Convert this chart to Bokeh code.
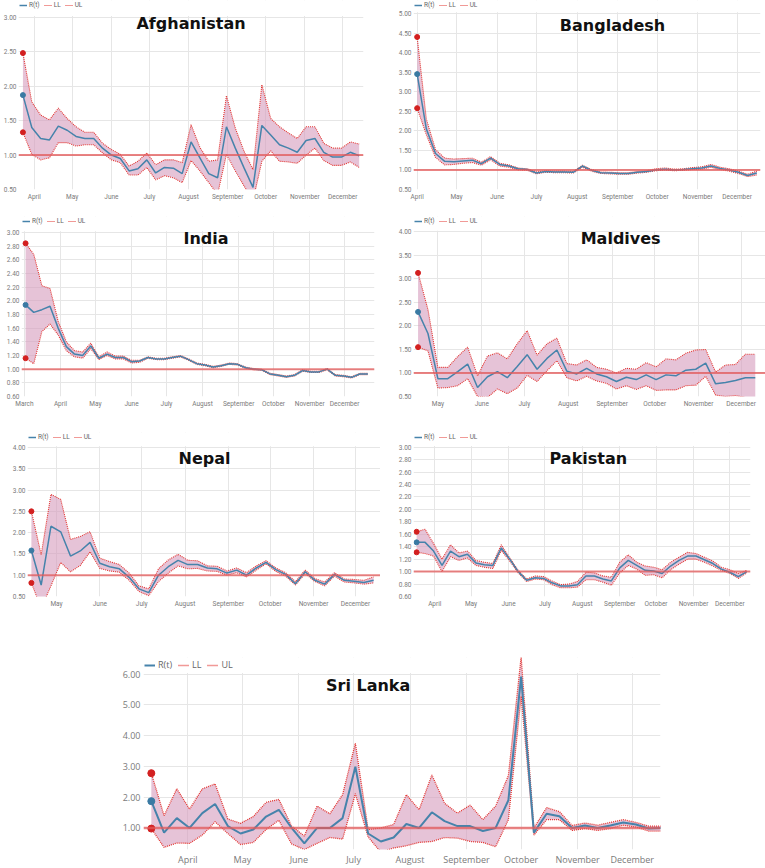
import pandas as pd
from bokeh.plotting import figure
from bokeh.models import (ColumnDataSource, Legend, LegendItem, Span, Label, FixedTicker, BoxAnnotation,
                          DatetimeTickFormatter, PrintfTickFormatter, Range1d, Spacer)
from bokeh.layouts import column, row
from bokeh.embed import file_html
from bokeh.resources import INLINE

# ---------------- data (weekly R(t) estimates with lower / upper limits) ----------------
MONTHS = ["2020-03-01", "2020-04-01", "2020-05-01", "2020-06-01", "2020-07-01",
          "2020-08-01", "2020-09-01", "2020-10-01", "2020-11-01", "2020-12-01"]

AFG_START = "2020-03-23"
AFG_R = [1.87, 1.40, 1.24, 1.22, 1.42, 1.36, 1.27, 1.24, 1.24, 1.10, 1.00, 0.95, 0.77, 0.80, 0.93, 0.74, 0.82, 0.81, 0.73, 1.19,
         0.96, 0.73, 0.67, 1.41, 1.10, 0.81, 0.53, 1.43, 1.29, 1.15, 1.10, 1.04, 1.21, 1.24, 1.04, 0.97, 0.97, 1.04, 0.99]
AFG_UL = [2.48, 1.77, 1.58, 1.51, 1.68, 1.53, 1.41, 1.33, 1.33, 1.17, 1.08, 1.01, 0.84, 0.91, 1.03, 0.86, 0.93, 0.93, 0.89, 1.44,
          1.11, 0.91, 0.93, 1.86, 1.39, 1.05, 0.79, 2.02, 1.53, 1.41, 1.32, 1.24, 1.41, 1.41, 1.17, 1.10, 1.10, 1.19, 1.16]
AFG_LL = [1.33, 1.01, 0.93, 0.96, 1.18, 1.18, 1.13, 1.15, 1.15, 1.03, 0.93, 0.89, 0.71, 0.71, 0.82, 0.64, 0.70, 0.67, 0.60, 0.92,
          0.77, 0.60, 0.43, 1.01, 0.77, 0.55, 0.34, 0.91, 1.06, 0.91, 0.90, 0.88, 1.00, 1.10, 0.92, 0.85, 0.85, 0.90, 0.82]

BGD_START = "2020-04-01"
BGD_R = [3.45, 2.05, 1.42, 1.22, 1.21, 1.23, 1.25, 1.16, 1.30, 1.14, 1.10, 1.03, 1.01, 0.92, 0.96, 0.95, 0.95, 0.94, 1.10, 0.99,
         0.93, 0.92, 0.91, 0.91, 0.94, 0.96, 1.00, 1.02, 1.00, 1.01, 1.03, 1.05, 1.10, 1.04, 1.00, 0.94, 0.86, 0.92]
BGD_UL = [4.40, 2.30, 1.52, 1.30, 1.28, 1.29, 1.30, 1.20, 1.34, 1.17, 1.13, 1.05, 1.03, 0.95, 0.98, 0.97, 0.97, 0.96, 1.12, 1.01,
          0.95, 0.94, 0.93, 0.93, 0.96, 0.98, 1.03, 1.05, 1.02, 1.03, 1.06, 1.08, 1.14, 1.07, 1.03, 0.97, 0.89, 0.97]
BGD_LL = [2.58, 1.90, 1.32, 1.13, 1.14, 1.17, 1.19, 1.12, 1.26, 1.10, 1.07, 1.00, 0.99, 0.90, 0.94, 0.93, 0.93, 0.92, 1.07, 0.97,
          0.91, 0.90, 0.89, 0.89, 0.92, 0.94, 0.98, 1.00, 0.98, 0.99, 1.01, 1.02, 1.07, 1.01, 0.97, 0.91, 0.83, 0.87]

IND_START = "2020-03-02"
IND_R = [1.94, 1.83, 1.87, 1.92, 1.60, 1.33, 1.22, 1.20, 1.34, 1.16, 1.22, 1.17, 1.17, 1.11, 1.12, 1.17, 1.15, 1.15, 1.17, 1.19,
         1.14, 1.08, 1.06, 1.03, 1.05, 1.08, 1.07, 1.02, 1.00, 0.99, 0.93, 0.91, 0.89, 0.91, 0.98, 0.96, 0.96, 1.00, 0.91, 0.90,
         0.88, 0.93, 0.93]
IND_UL = [2.84, 2.68, 2.22, 2.18, 1.70, 1.40, 1.27, 1.25, 1.38, 1.18, 1.25, 1.19, 1.19, 1.13, 1.13, 1.18, 1.16, 1.16, 1.18, 1.20,
          1.15, 1.09, 1.07, 1.04, 1.06, 1.09, 1.08, 1.03, 1.01, 1.00, 0.94, 0.92, 0.90, 0.92, 0.99, 0.97, 0.97, 1.01, 0.92, 0.91,
          0.89, 0.94, 0.94]
IND_LL = [1.16, 1.08, 1.55, 1.66, 1.50, 1.27, 1.18, 1.16, 1.30, 1.14, 1.20, 1.15, 1.15, 1.09, 1.10, 1.16, 1.14, 1.14, 1.16, 1.18,
          1.13, 1.07, 1.05, 1.02, 1.04, 1.07, 1.06, 1.01, 0.99, 0.98, 0.92, 0.90, 0.88, 0.90, 0.97, 0.95, 0.95, 0.99, 0.90, 0.89,
          0.87, 0.92, 0.92]

MDV_START = "2020-04-17"
MDV_R = [2.30, 1.84, 0.88, 0.88, 1.03, 1.19, 0.69, 0.92, 1.03, 0.90, 1.14, 1.39, 1.08, 1.31, 1.49, 1.04, 0.98, 1.10, 0.98, 0.92,
         0.82, 0.91, 0.86, 0.96, 0.86, 0.96, 0.94, 1.06, 1.08, 1.21, 0.77, 0.80, 0.84, 0.90, 0.90]
MDV_UL = [3.13, 2.35, 1.12, 1.12, 1.35, 1.55, 0.94, 1.36, 1.43, 1.30, 1.62, 1.90, 1.38, 1.62, 1.74, 1.20, 1.17, 1.28, 1.12, 1.08,
          1.00, 1.10, 1.08, 1.22, 1.13, 1.30, 1.28, 1.42, 1.49, 1.50, 1.02, 1.17, 1.18, 1.40, 1.40]
MDV_LL = [1.55, 1.47, 0.68, 0.69, 0.73, 0.88, 0.50, 0.48, 0.66, 0.56, 0.68, 0.95, 0.82, 1.05, 1.26, 0.90, 0.83, 0.93, 0.83, 0.78,
          0.66, 0.73, 0.65, 0.73, 0.63, 0.64, 0.64, 0.73, 0.74, 0.93, 0.53, 0.50, 0.52, 0.48, 0.46]

NPL_START = "2020-04-13"
NPL_R = [1.58, 0.77, 2.15, 2.02, 1.45, 1.57, 1.77, 1.28, 1.20, 1.15, 0.95, 0.68, 0.59, 1.00, 1.20, 1.35, 1.25, 1.25, 1.17, 1.15,
         1.05, 1.12, 1.00, 1.17, 1.30, 1.13, 1.02, 0.80, 1.08, 0.88, 0.79, 1.02, 0.88, 0.86, 0.83, 0.88]
NPL_UL = [2.50, 1.48, 2.90, 2.78, 1.84, 1.91, 2.02, 1.40, 1.32, 1.25, 1.05, 0.75, 0.68, 1.15, 1.36, 1.49, 1.35, 1.34, 1.22, 1.21,
          1.10, 1.17, 1.06, 1.22, 1.34, 1.17, 1.06, 0.85, 1.12, 0.92, 0.84, 1.06, 0.91, 0.90, 0.88, 0.96]
NPL_LL = [0.82, 0.22, 0.75, 1.30, 1.08, 1.23, 1.55, 1.16, 1.10, 1.07, 0.88, 0.62, 0.52, 0.85, 1.05, 1.22, 1.15, 1.16, 1.10, 1.09,
          1.00, 1.06, 0.96, 1.12, 1.27, 1.09, 0.98, 0.77, 1.04, 0.85, 0.75, 0.98, 0.84, 0.82, 0.79, 0.82]

PAK_START = "2020-03-17"
PAK_R = [1.47, 1.47, 1.33, 1.10, 1.33, 1.24, 1.28, 1.14, 1.11, 1.10, 1.38, 1.20, 1.00, 0.86, 0.90, 0.89, 0.82, 0.77, 0.77, 0.79,
         0.93, 0.93, 0.88, 0.85, 1.06, 1.18, 1.10, 1.02, 1.01, 0.97, 1.09, 1.18, 1.25, 1.25, 1.19, 1.13, 1.04, 0.99, 0.92, 1.00]
PAK_UL = [1.64, 1.68, 1.45, 1.20, 1.43, 1.30, 1.33, 1.18, 1.15, 1.13, 1.43, 1.22, 1.02, 0.88, 0.93, 0.92, 0.85, 0.79, 0.80, 0.84,
          0.99, 0.98, 0.93, 0.91, 1.15, 1.27, 1.15, 1.09, 1.07, 1.03, 1.15, 1.23, 1.31, 1.29, 1.23, 1.17, 1.07, 1.03, 0.97, 1.02]
PAK_LL = [1.31, 1.29, 1.25, 1.00, 1.24, 1.18, 1.22, 1.10, 1.07, 1.05, 1.34, 1.17, 0.98, 0.84, 0.88, 0.87, 0.79, 0.74, 0.74, 0.75,
          0.87, 0.87, 0.83, 0.78, 0.98, 1.10, 1.04, 0.94, 0.95, 0.90, 1.03, 1.12, 1.20, 1.20, 1.15, 1.09, 1.02, 0.97, 0.89, 0.98]

LKA_START = "2020-03-12"
LKA_R = [1.87, 0.85, 1.32, 1.00, 1.48, 1.78, 1.06, 0.82, 0.95, 1.37, 1.59, 1.00, 0.50, 1.00, 1.00, 1.32, 2.99, 0.82, 0.56, 0.69,
         1.13, 1.00, 1.51, 1.22, 1.06, 1.06, 0.90, 1.00, 1.90, 5.92, 0.85, 1.46, 1.38, 1.00, 1.08, 1.00, 1.08, 1.18, 1.11, 0.98,
         1.00]
LKA_UL = [2.78, 1.40, 2.27, 1.61, 2.27, 2.43, 1.29, 1.15, 1.37, 1.83, 1.93, 1.06, 0.74, 1.71, 1.46, 2.08, 3.75, 0.95, 1.00, 1.11,
          2.08, 1.59, 2.72, 1.80, 1.48, 1.74, 1.27, 1.71, 2.70, 6.55, 1.00, 1.66, 1.53, 1.08, 1.16, 1.09, 1.18, 1.27, 1.18, 1.06,
          1.06]
LKA_LL = [0.98, 0.37, 0.51, 0.50, 0.77, 1.20, 0.82, 0.46, 0.53, 0.95, 1.25, 0.48, 0.30, 0.50, 0.69, 0.64, 2.11, 0.71, 0.21, 0.35,
          0.42, 0.53, 0.56, 0.69, 0.67, 0.56, 0.53, 0.39, 1.27, 5.28, 0.77, 1.27, 1.27, 0.92, 0.98, 0.92, 0.98, 1.09, 1.03, 0.90,
          0.90]

# ---------------- styles ----------------
BLUE = "#4683ab"
RED = "#e3342f"
FILL = "#d69bbd"
GRID = "#e6e6e6"
TICK = "#7a7a7a"


def ms(s):
    return pd.Timestamp(s).value / 1e6


MONTH_MS = [ms(m) for m in MONTHS]


def panel(name, start, R, UL, LL, xr, yr, yticks, width, height, borders, band, title_xy, big=False):
    L, Rb, T, B = borders
    y0, y1 = yr
    plot_h = height - T - band - B            # height of the valued part of the frame
    per_px = (y1 - y0) / plot_h
    y_top = y1 + band * per_px                # extra strip on top that holds the legend

    dates = pd.date_range(start, periods=len(R), freq="7D")
    src = ColumnDataSource(dict(x=dates, r=R, ul=UL, ll=LL))
    p = figure(width=width, height=height, x_axis_type="datetime", output_backend="svg",
               toolbar_location=None, x_range=Range1d(ms(xr[0]), ms(xr[1])),
               y_range=Range1d(y0, y_top),
               min_border_left=L, min_border_right=Rb, min_border_top=T, min_border_bottom=B)
    p.outline_line_color = None

    # hide the vertical grid lines inside the legend strip
    p.add_layout(BoxAnnotation(bottom=y1 + 1.2 * per_px, fill_color="white", fill_alpha=1.0,
                               line_alpha=0, level="underlay"))

    p.varea(x="x", y1="ll", y2="ul", source=src, fill_color=FILL, fill_alpha=0.6)
    p.add_layout(Span(location=1.0, dimension="width", line_color="#e35a5a",
                      line_alpha=0.75, line_width=2.5 if big else 2))
    lw = 1.3 if big else 1.1
    r_ll = p.line("x", "ll", source=src, line_color=RED, line_width=lw, line_dash="1 1")
    r_ul = p.line("x", "ul", source=src, line_color=RED, line_width=lw, line_dash="1 1")
    r_r = p.line("x", "r", source=src, line_color=BLUE, line_width=2 if big else 1.5)

    first = ColumnDataSource(dict(x=dates[:1], r=R[:1], ul=UL[:1], ll=LL[:1]))
    msz = 7 if big else 5
    p.scatter("x", "ul", source=first, size=msz, color="#d32020")
    p.scatter("x", "ll", source=first, size=msz, color="#d32020")
    p.scatter("x", "r", source=first, size=msz, color="#3a7aa3")

    fs = "9px" if big else "6.5px"
    legend = Legend(items=[LegendItem(label="R(t)", renderers=[r_r]),
                           LegendItem(label="LL", renderers=[r_ll]),
                           LegendItem(label="UL", renderers=[r_ul])],
                    orientation="horizontal", location="top_left",
                    glyph_width=11 if big else 8, glyph_height=10 if big else 8,
                    label_height=10 if big else 8, label_width=0,
                    label_standoff=3 if big else 2,
                    spacing=6 if big else 4, padding=0, margin=1,
                    label_text_font="Open Sans" if big else "Roboto",
                    label_text_font_size=fs, label_text_color="#666666",
                    background_fill_alpha=0, border_line_alpha=0)
    p.add_layout(legend, "center")

    p.add_layout(Label(x=ms(title_xy[0]), y=title_xy[1], text=name, text_align="center",
                       text_baseline="middle", text_font="DejaVu Sans", text_font_style="bold",
                       text_font_size="16px", text_color="#111111"))

    p.xaxis.ticker = FixedTicker(ticks=MONTH_MS)
    p.xaxis.formatter = DatetimeTickFormatter(
        microseconds="%B", milliseconds="%B", seconds="%B", minsec="%B", minutes="%B",
        hourmin="%B", hours="%B", days="%B", months="%B", years="%B")
    p.yaxis.ticker = FixedTicker(ticks=yticks)
    p.yaxis.formatter = PrintfTickFormatter(format="%.2f")
    for ax in (p.xaxis[0], p.yaxis[0]):
        ax.axis_line_color = None
        ax.major_tick_line_color = None
        ax.minor_tick_line_color = None
        ax.major_tick_in = 0
        ax.major_tick_out = 0
        ax.minor_tick_in = 0
        ax.minor_tick_out = 0
        ax.major_label_text_font = "Open Sans" if big else "Roboto"
        ax.major_label_text_font_size = fs
        ax.major_label_text_color = TICK
    p.xaxis.major_label_standoff = 3
    p.yaxis.major_label_standoff = 3 if big else 2
    p.grid.grid_line_color = GRID
    p.grid.grid_line_width = 1
    return p


def ticks(a, b, step):
    out, v = [], a
    while v <= b + 1e-9:
        out.append(round(v, 2))
        v += step
    return out


afg = panel("Afghanistan", AFG_START, AFG_R, AFG_UL, AFG_LL,
            ("2020-03-19 12:00", "2020-12-17 10:00"), (0.5, 3.0), ticks(0.5, 3.0, 0.5),
            380, 205, (15, 17, 0, 13), 17, ("2020-08-03", 2.91))
bgd = panel("Bangladesh", BGD_START, BGD_R, BGD_UL, BGD_LL,
            ("2020-03-29 05:00", "2020-12-18 20:00"), (0.5, 5.0), ticks(0.5, 5.0, 0.5),
            385, 205, (33, 5, 0, 16), 13, ("2020-08-28", 4.69))
ind = panel("India", IND_START, IND_R, IND_UL, IND_LL,
            ("2020-02-27 12:00", "2020-12-26 16:00"), (0.6, 3.0), ticks(0.6, 3.0, 0.2),
            380, 205, (21, 6, 11, 13), 16, ("2020-08-04", 2.91))
mdv = panel("Maldives", MDV_START, MDV_R, MDV_UL, MDV_LL,
            ("2020-04-13 19:00", "2020-12-18 05:00"), (0.5, 4.0), ticks(0.5, 4.0, 0.5),
            385, 205, (33, 0, 5, 14), 16, ("2020-09-07", 3.87))
npl = panel("Nepal", NPL_START, NPL_R, NPL_UL, NPL_LL,
            ("2020-04-10 05:00", "2020-12-18 22:00"), (0.5, 4.0), ticks(0.5, 4.0, 0.5),
            380, 205, (27, 0, 22, 19), 15, ("2020-08-15", 3.74))
pak = panel("Pakistan", PAK_START, PAK_R, PAK_UL, PAK_LL,
            ("2020-03-14 10:00", "2020-12-18 02:00"), (0.6, 3.0), ticks(0.6, 3.0, 0.2),
            385, 205, (33, 15, 22, 15), 15, ("2020-08-06", 2.81))
lka = panel("Sri Lanka", LKA_START, LKA_R, LKA_UL, LKA_LL,
            ("2020-03-07 17:00", "2020-12-16 12:00"), (0.3, 6.0), ticks(1.0, 6.0, 1.0),
            570, 253, (43, 10, 42, 14), 17, ("2020-07-09", 5.62), big=True)

layout = column(row(afg, bgd), row(ind, mdv), row(npl, pak), row(Spacer(width=100, height=253), lka))

open("out.html", "w").write(file_html(layout, INLINE))
